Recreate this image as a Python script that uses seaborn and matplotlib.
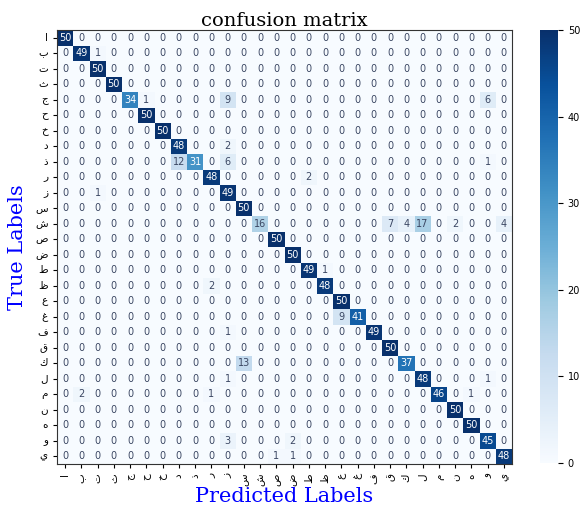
import matplotlib

matplotlib.use("Agg")

import matplotlib.pyplot as plt
import numpy as np
import seaborn as sns


LABELS = ["ا", "ب", "ت", "ث", "ج", "ح", "خ", "د", "ذ", "ر", "ز", "س", "ش", "ص",
          "ض", "ط", "ظ", "ع", "غ", "ف", "ق", "ك", "ل", "م", "ن", "ه", "و", "ي"]

# correct predictions per class (diagonal)
DIAGONAL = [50, 49, 50, 50, 34, 50, 50, 48, 31, 48, 49, 50, 16, 50,
            50, 49, 48, 50, 41, 49, 50, 37, 48, 46, 50, 50, 45, 48]

# misclassifications: (true index, predicted index, count)
ERRORS = [
    (1, 2, 1),
    (4, 5, 1), (4, 10, 9), (4, 26, 6),
    (7, 10, 2),
    (8, 7, 12), (8, 10, 6), (8, 26, 1),
    (9, 15, 2),
    (10, 2, 1),
    (12, 20, 7), (12, 21, 4), (12, 22, 17), (12, 24, 2), (12, 27, 4),
    (15, 16, 1),
    (16, 9, 2),
    (18, 17, 9),
    (19, 10, 1),
    (21, 11, 13),
    (22, 10, 1), (22, 26, 1),
    (23, 1, 2), (23, 9, 1), (23, 25, 1),
    (26, 10, 3), (26, 14, 2),
    (27, 13, 1), (27, 14, 1),
]


def build_matrix() -> np.ndarray:
    n = len(LABELS)
    cm = np.zeros((n, n), dtype=int)
    cm[np.arange(n), np.arange(n)] = DIAGONAL
    for r, c, v in ERRORS:
        cm[r, c] = v
    return cm


def plot_cm(cm: np.ndarray) -> None:
    fig = plt.figure(figsize=(5.8, 5.07), dpi=100)
    ax = fig.add_axes([57 / 580, 1 - 464 / 507, 455 / 580, 434 / 507])
    cax = fig.add_axes([540 / 580, 1 - 463 / 507, 18 / 580, 433 / 507])

    sns.heatmap(
        cm,
        annot=True,
        fmt="d",
        cmap="Blues",
        vmin=0,
        vmax=50,
        ax=ax,
        cbar_ax=cax,
        xticklabels=LABELS,
        yticklabels=LABELS,
        annot_kws={"size": 7},
    )

    # soften the dark annotation text a little, like the original
    for t in ax.texts:
        if t.get_color() != "w" and t.get_color() != "white" and t.get_color() != (1, 1, 1):
            t.set_color("#3b4763")

    for spine in ax.spines.values():
        spine.set_visible(True)
        spine.set_color("#333333")
        spine.set_linewidth(0.8)
    cax.tick_params(labelsize=7)
    cax.set_yticks([0, 10, 20, 30, 40, 50])

    ax.tick_params(axis="both", labelsize=7.5, length=3)
    ax.set_xticklabels(LABELS, rotation=90, family="DejaVu Sans")
    ax.set_yticklabels(LABELS, rotation=0, family="DejaVu Sans")

    ax.set_title("confusion matrix", family="DejaVu Serif", fontsize=14, pad=3)
    ax.set_xlabel("Predicted Labels", family="DejaVu Serif", fontsize=15,
                  color="blue", labelpad=1)
    ax.set_ylabel("True Labels", family="DejaVu Serif", fontsize=15,
                  color="blue", labelpad=6)

    fig.savefig("out.png", dpi=100)
    plt.close(fig)


def main() -> None:
    plot_cm(build_matrix())


if __name__ == "__main__":
    main()
